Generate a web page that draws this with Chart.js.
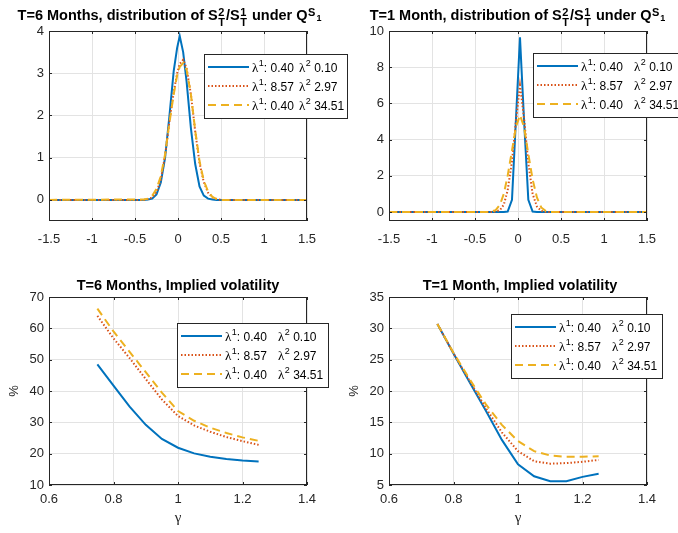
<!DOCTYPE html>
<html>
<head>
<meta charset="utf-8">
<script src="https://cdn.jsdelivr.net/npm/chart.js@4.4.1/dist/chart.umd.min.js"></script>
<style>
html, body { margin: 0; padding: 0; background: #fff; }
#wrap { position: relative; width: 678px; height: 533px; overflow: hidden; background: #fff; }
#wrap canvas { position: absolute; left: 0; top: 0; }
</style>
</head>
<body>
<div id="wrap">
  <canvas id="dist6" width="678" height="533"></canvas>
  <canvas id="dist1" width="678" height="533"></canvas>
  <canvas id="vol6" width="678" height="533"></canvas>
  <canvas id="vol1" width="678" height="533"></canvas>
</div>
<script>
// density of S2/S1, T = 6 months
const dist6X = [-1.5, -0.4, -0.35, -0.3, -0.25, -0.2, -0.15, -0.1, -0.05, -0.01, 0.02, 0.06, 0.1, 0.15, 0.2, 0.25, 0.3, 0.35, 0.4, 0.45, 0.5, 1.5];
const dist6A = [0, 0, 0.01, 0.03, 0.13, 0.41, 1.0, 1.98, 3.05, 3.6, 3.88, 3.5, 2.8, 1.7, 0.85, 0.32, 0.1, 0.03, 0.01, 0, 0, 0];
const dist6B = [0, 0, 0.02, 0.06, 0.18, 0.48, 1.05, 1.85, 2.55, 3.0, 3.22, 3.32, 3.12, 2.5, 1.62, 0.88, 0.42, 0.17, 0.06, 0.02, 0, 0];
const dist6C = [0, 0.01, 0.03, 0.1, 0.26, 0.56, 1.08, 1.82, 2.5, 2.95, 3.15, 3.24, 3.08, 2.5, 1.65, 0.92, 0.45, 0.2, 0.07, 0.02, 0, 0];

// density of S2/S1, T = 1 month
const dist1X = [-1.5, -0.36, -0.31, -0.26, -0.21, -0.165, -0.12, -0.07, -0.024, 0.023, 0.07, 0.12, 0.17, 0.22, 0.27, 0.32, 0.37, 1.5];
const dist1A = [0, 0, 0, 0, 0, 0, 0.02, 0.67, 5.1, 9.65, 5.1, 0.67, 0.02, 0, 0, 0, 0, 0];
const dist1B = [0, 0, 0, 0.02, 0.1, 0.4, 1.2, 2.8, 5.0, 7.0, 5.2, 2.7, 1.0, 0.3, 0.06, 0, 0, 0];
const dist1C = [0, 0, 0.02, 0.1, 0.4, 1.0, 2.0, 3.4, 4.7, 5.35, 4.7, 3.2, 1.8, 0.8, 0.25, 0.06, 0, 0];

// implied volatility (%) against gamma
const volX = [0.75, 0.8, 0.85, 0.9, 0.95, 1.0, 1.05, 1.1, 1.15, 1.2, 1.25];
const vol6A = [48.5, 41.7, 35.0, 29.2, 24.7, 21.9, 20.1, 19.0, 18.3, 17.8, 17.5];
const vol6B = [64.0, 56.8, 50.5, 43.8, 37.3, 32.0, 29.0, 27.0, 25.3, 24.0, 22.8];
const vol6C = [66.3, 59.0, 52.5, 46.0, 39.5, 33.6, 30.5, 28.3, 26.6, 25.2, 24.1];
const vol1A = [30.7, 26.0, 21.4, 16.9, 12.2, 8.3, 6.4, 5.6, 5.6, 6.3, 6.8];
const vol1B = [30.7, 26.0, 21.6, 17.3, 13.4, 10.4, 8.8, 8.4, 8.5, 8.7, 9.0];
const vol1C = [30.7, 26.1, 21.9, 17.9, 14.6, 12.0, 10.4, 9.7, 9.5, 9.5, 9.6];

// legend parameters
const lam1 = ['0.40', '8.57', '0.40'];
const lam2 = ['0.10', '2.97', '34.51'];

// tick values
const distXTicks = [-1.5, -1, -0.5, 0, 0.5, 1, 1.5];
const dist6YTicks = [0, 1, 2, 3, 4];
const dist1YTicks = [0, 2, 4, 6, 8, 10];
const volXTicks = [0.6, 0.8, 1, 1.2, 1.4];
const vol6YTicks = [10, 20, 30, 40, 50, 60, 70];
const vol1YTicks = [5, 10, 15, 20, 25, 30, 35];

const SANS = '"Liberation Sans", Arial, Helvetica, sans-serif';
const SERIF = '"Liberation Serif", "Times New Roman", serif';
const TEXT = '#262626';
const GRID = '#e3e3e3';
const STYLES = [
    { color: '#0072BD', dash: [] },
    { color: '#D95319', dash: [1.5, 2] },
    { color: '#EDB120', dash: [8, 5] }
];
const Y_W = 42;   // fixed y axis width

// one piece of a title: plain text, stacked sub/sup, or sup with its own subscript
function drawRun(ctx, run, x, base, size, draw) {
    const f = s => `bold ${s}px ${SANS}`;
    if (run.t !== undefined) {
        ctx.font = f(size);
        if (draw) ctx.fillText(run.t, x, base);
        return ctx.measureText(run.t).width;
    }
    const small = Math.round(size * 0.78);
    ctx.font = f(small);
    let w;
    if (run.sub !== undefined) {
        if (draw) {
            ctx.fillText(run.sub, x + 0.5, base + size * 0.42);
            ctx.fillText(run.sup, x + 0.5, base - size * 0.3);
        }
        w = Math.max(ctx.measureText(run.sub).width, ctx.measureText(run.sup).width);
    } else {
        if (draw) ctx.fillText(run.sup, x + 0.5, base - size * 0.3);
        w = ctx.measureText(run.sup).width;
        ctx.font = f(Math.round(size * 0.62));
        if (draw) ctx.fillText(run.supSub, x + w + 1.5, base + size * 0.05);
        w += ctx.measureText(run.supSub).width + 1;
    }
    return w + 1.5;
}

function drawTitle(ctx, T) {
    ctx.fillStyle = '#000';
    ctx.textAlign = 'left';
    ctx.textBaseline = 'alphabetic';
    let total = 0;
    T.runs.forEach(r => { total += drawRun(ctx, r, 0, 0, T.size, false); });
    let x = T.cx - total / 2;
    T.runs.forEach(r => { x += drawRun(ctx, r, x, T.base, T.size, true); });
}

function drawLambda(ctx, x, base, idx, rest) {
    ctx.font = `13px ${SERIF}`;
    ctx.fillText('\u03bb', x, base);
    x += ctx.measureText('\u03bb').width + 0.5;
    ctx.font = `9px ${SANS}`;
    ctx.fillText(idx, x, base - 5.5);
    x += ctx.measureText(idx).width;
    ctx.font = `12px ${SANS}`;
    ctx.fillText(rest, x, base);
}

function drawLegend(chart, L) {
    const ctx = chart.ctx;
    ctx.fillStyle = '#fff';
    ctx.fillRect(L.x, L.y, L.w, L.h);
    ctx.strokeStyle = TEXT;
    ctx.lineWidth = 1;
    ctx.setLineDash([]);
    ctx.strokeRect(L.x + 0.5, L.y + 0.5, L.w, L.h);
    chart.data.datasets.forEach((ds, i) => {
        const y = Math.round(L.y + L.h * (0.2 + 0.3 * i));
        ctx.strokeStyle = ds.borderColor;
        ctx.lineWidth = ds.borderWidth;
        ctx.setLineDash(ds.borderDash);
        ctx.beginPath();
        ctx.moveTo(L.x + 4, y);
        ctx.lineTo(L.x + 45, y);
        ctx.stroke();
        ctx.setLineDash([]);
        ctx.fillStyle = '#000';
        ctx.textAlign = 'left';
        ctx.textBaseline = 'alphabetic';
        drawLambda(ctx, L.x + 48, y + 4.5, '1', ': ' + lam1[i]);
        drawLambda(ctx, L.x + L.col2, y + 4.5, '2', ' ' + lam2[i]);
    });
}

const matlabPlugin = {
    id: 'matlab',
    afterDraw(chart, args, opts) {
        const ctx = chart.ctx;
        const a = chart.chartArea;
        const sx = chart.scales.x, sy = chart.scales.y;
        ctx.save();
        // axes box with inward tick marks
        ctx.strokeStyle = TEXT;
        ctx.lineWidth = 1;
        ctx.setLineDash([]);
        ctx.strokeRect(a.left + 0.5, a.top + 0.5, a.right - a.left - 1, a.bottom - a.top - 1);
        ctx.beginPath();
        sx.ticks.forEach(t => {
            const px = Math.round(sx.getPixelForValue(t.value)) + 0.5;
            ctx.moveTo(px, a.bottom); ctx.lineTo(px, a.bottom - 3);
            ctx.moveTo(px, a.top); ctx.lineTo(px, a.top + 3);
        });
        sy.ticks.forEach(t => {
            const py = Math.round(sy.getPixelForValue(t.value)) + 0.5;
            ctx.moveTo(a.left, py); ctx.lineTo(a.left + 3, py);
            ctx.moveTo(a.right, py); ctx.lineTo(a.right - 3, py);
        });
        ctx.stroke();
        drawTitle(ctx, opts.title);
        drawLegend(chart, opts.legend);
        ctx.restore();
    }
};

function makeChart(id, cfg) {
    const ctx = document.getElementById(id).getContext('2d');
    const datasets = cfg.series.map((ys, i) => ({
        label: 'λ¹: ' + lam1[i] + '   λ² ' + lam2[i],
        data: ys.map((y, k) => ({ x: cfg.xs[k], y: y })),
        borderColor: STYLES[i].color,
        borderDash: STYLES[i].dash,
        borderWidth: 2,
        pointRadius: 0,
        tension: 0,
        fill: false,
        order: 3 - i
    }));
    const tickFont = { family: SANS, size: 13 };
    return new Chart(ctx, {
        type: 'line',
        data: { datasets },
        plugins: [matlabPlugin],
        options: {
            responsive: false,
            animation: false,
            events: [],
            layout: {
                padding: {
                    left: cfg.area.l - Y_W,
                    top: cfg.area.t,
                    right: 678 - cfg.area.r,
                    bottom: 533 - cfg.area.b - cfg.xH
                }
            },
            plugins: {
                legend: { display: false },
                tooltip: { enabled: false },
                matlab: { title: cfg.title, legend: cfg.legend }
            },
            scales: {
                x: {
                    type: 'linear',
                    min: cfg.xMin,
                    max: cfg.xMax,
                    afterBuildTicks: s => { s.ticks = cfg.xTicks.map(v => ({ value: v })); },
                    afterFit: s => { s.height = cfg.xH; },
                    grid: { color: GRID, drawTicks: false },
                    border: { display: false },
                    ticks: { padding: cfg.xPad, color: TEXT, font: tickFont, maxRotation: 0, autoSkip: false, callback: v => String(v) },
                    title: {
                        display: !!cfg.xTitle,
                        text: cfg.xTitle || '',
                        color: TEXT,
                        font: { family: SERIF, size: 15 },
                        padding: { top: 0, bottom: 0 }
                    }
                },
                y: {
                    type: 'linear',
                    min: cfg.yMin,
                    max: cfg.yMax,
                    afterBuildTicks: s => { s.ticks = cfg.yTicks.map(v => ({ value: v })); },
                    afterFit: s => { s.width = Y_W; },
                    grid: { color: GRID, drawTicks: false },
                    border: { display: false },
                    ticks: { padding: 5, color: TEXT, font: tickFont, autoSkip: false, callback: v => String(v) },
                    title: {
                        display: !!cfg.yTitle,
                        text: cfg.yTitle || '',
                        color: TEXT,
                        font: { family: SANS, size: 13 },
                        padding: { top: 0, bottom: 0 }
                    }
                }
            }
        }
    });
}

const distTitle = (head) => [
    { t: head + ', distribution of S' }, { sub: 'T', sup: '2' },
    { t: '/S' }, { sub: 'T', sup: '1' },
    { t: ' under Q' }, { sup: 'S', supSub: '1' }
];

makeChart('dist6', {
    xs: dist6X, series: [dist6A, dist6B, dist6C],
    xMin: -1.5, xMax: 1.5, yMin: -0.5, yMax: 4,
    xTicks: distXTicks, yTicks: dist6YTicks,
    area: { l: 49, t: 31, r: 307, b: 221 }, xH: 40, xPad: 11,
    title: { runs: distTitle('T=6 Months'), cx: 170, base: 20, size: 14.5 },
    legend: { x: 204, y: 54, w: 143, h: 64, col2: 95 }
});

makeChart('dist1', {
    xs: dist1X, series: [dist1A, dist1B, dist1C],
    xMin: -1.5, xMax: 1.5, yMin: -0.5, yMax: 10,
    xTicks: distXTicks, yTicks: dist1YTicks,
    area: { l: 389, t: 31, r: 647, b: 221 }, xH: 40, xPad: 11,
    title: { runs: distTitle('T=1 Month'), cx: 518, base: 20, size: 14.5 },
    legend: { x: 533, y: 53, w: 150, h: 64, col2: 101 }
});

makeChart('vol6', {
    xs: volX, series: [vol6A, vol6B, vol6C],
    xMin: 0.6, xMax: 1.4, yMin: 10, yMax: 70,
    xTicks: volXTicks, yTicks: vol6YTicks,
    xTitle: 'γ', yTitle: '%',
    area: { l: 49, t: 297, r: 307, b: 485 }, xH: 42, xPad: 7,
    title: { runs: [{ t: 'T=6 Months, Implied volatility' }], cx: 178, base: 290, size: 14.5 },
    legend: { x: 177, y: 323, w: 151, h: 64, col2: 101 }
});

makeChart('vol1', {
    xs: volX, series: [vol1A, vol1B, vol1C],
    xMin: 0.6, xMax: 1.4, yMin: 5, yMax: 35,
    xTicks: volXTicks, yTicks: vol1YTicks,
    xTitle: 'γ', yTitle: '%',
    area: { l: 389, t: 297, r: 647, b: 485 }, xH: 42, xPad: 7,
    title: { runs: [{ t: 'T=1 Month, Implied volatility' }], cx: 520, base: 290, size: 14.5 },
    legend: { x: 511, y: 314, w: 151, h: 64, col2: 101 }
});
</script>
</body>
</html>
